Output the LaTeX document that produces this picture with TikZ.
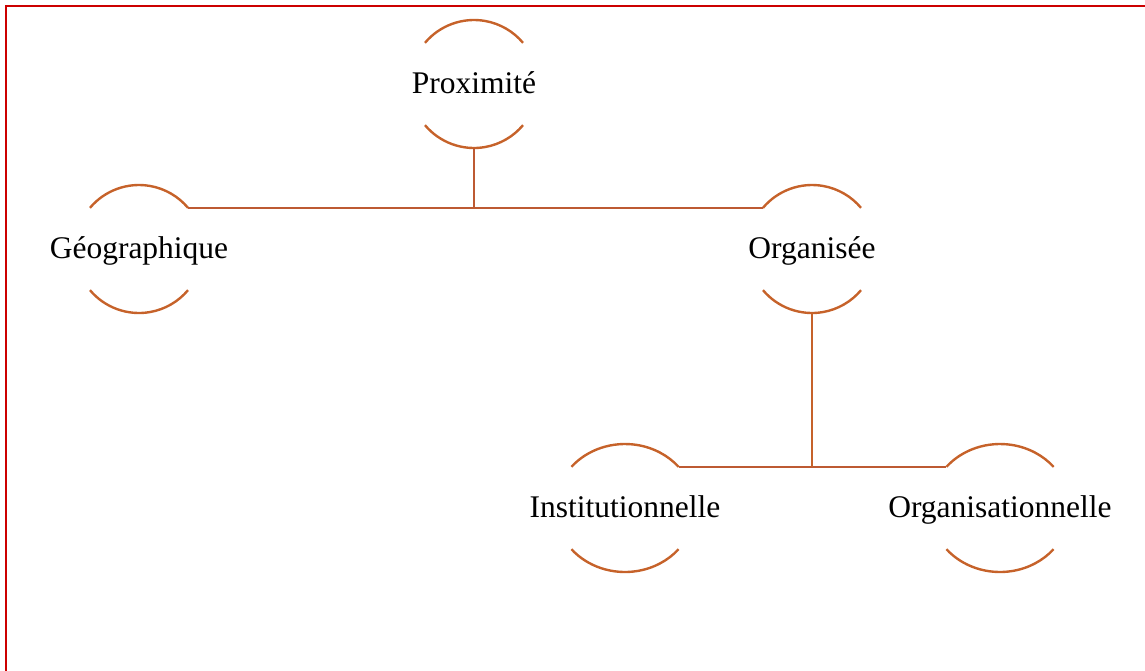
\documentclass[tikz,border=0pt]{standalone}
\usepackage{fontspec}
\setmainfont{Liberation Serif}
\usetikzlibrary{calc}
\definecolor{frame}{HTML}{CC0000}
\definecolor{rust}{HTML}{C6622A}
\definecolor{brick}{HTML}{BD5A32}

% two arcs round a label, with named ends
\newcommand{\halos}[3]{%
  \draw[halo] ([shift={(140:#2 and #3)}]#1.center) coordinate (#1-tl)
    arc[start angle=140, end angle=40, x radius=#2, y radius=#3] coordinate (#1-tr);
  \draw[halo] ([shift={(220:#2 and #3)}]#1.center) coordinate (#1-bl)
    arc[start angle=220, end angle=320, x radius=#2, y radius=#3] coordinate (#1-br);
  \coordinate (#1-b) at ([yshift=-#3]#1.center);
}

\begin{document}
\begin{tikzpicture}[
  x=1pt, y=1pt,
  lbl/.style={font=\fontsize{31.5}{36}\selectfont, text=black, inner sep=0pt,
    text height=23.6pt, text depth=3.8pt},
  halo/.style={rust, line width=2.4pt},
  link/.style={brick, line width=2.4pt},
]

\useasboundingbox (0,0) rectangle (1145,-670);

% Frame (only top and left edges show)
\draw[frame, line width=2.2pt] (6,-700) -- (6,-6) -- (1160,-6);

% === Labels ===
\node[lbl] (prox) at (474,-84) {Proximité};
\node[lbl] (geo)  at (139,-249) {Géographique};
\node[lbl] (org)  at (812,-249) {Organisée};
\node[lbl] (inst) at (625,-508) {Institutionnelle};
\node[lbl] (orgz) at (1000,-508) {Organisationnelle};

% === Arcs ===
\halos{prox}{64pt}{64pt}
\halos{geo}{64pt}{64pt}
\halos{org}{64pt}{64pt}
\halos{inst}{70pt}{64pt}
\halos{orgz}{70pt}{64pt}

% === Links ===
\draw[link] (geo-tr) -- (org-tl);
\draw[link] (prox-b) -- (prox-b |- geo-tr);
\draw[link] (inst-tr) -- (orgz-tl);
\draw[halo] (org-b) -- (org-b |- inst-tr);

\end{tikzpicture}
\end{document}
